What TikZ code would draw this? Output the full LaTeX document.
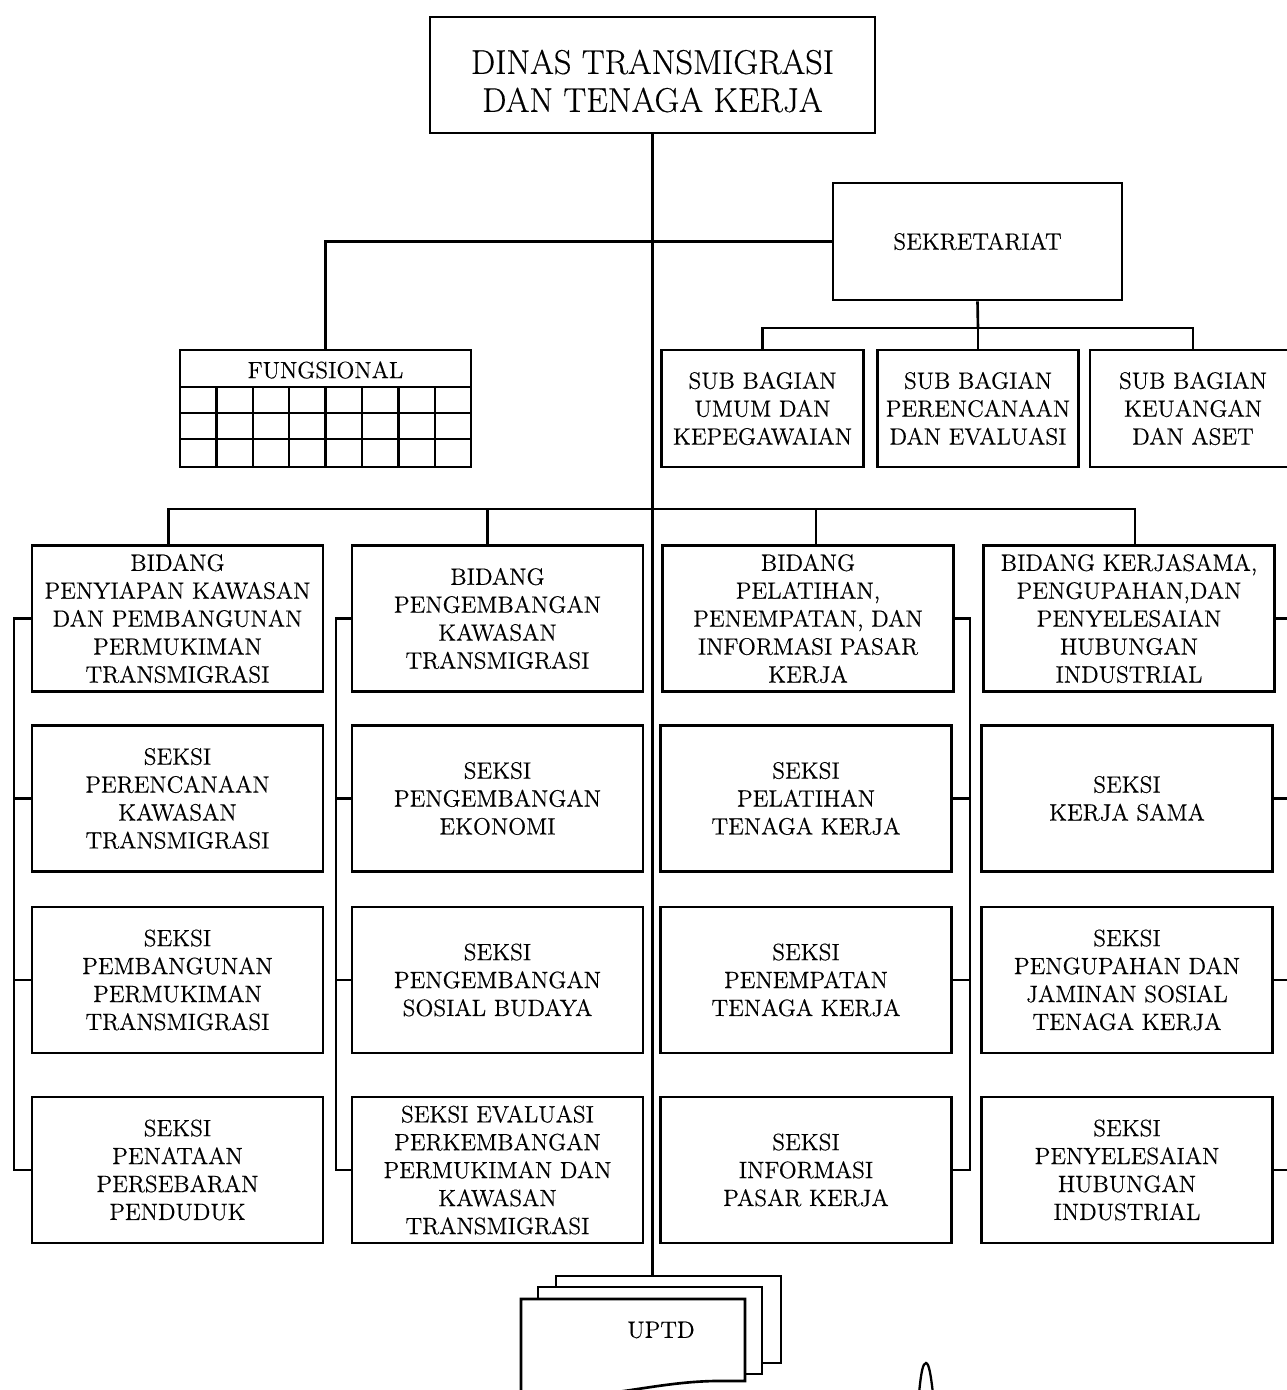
\documentclass[tikz,border=0pt]{standalone}
\usepackage{fontspec}
\setmainfont{Latin Modern Roman}[FakeBold=0.4]
\begin{document}
\begin{tikzpicture}[x=0.02cm,y=-0.02cm,line width=1.5pt,
	unit/.style={draw,line width=1.5pt,fill=white,align=center,inner sep=0pt,font=\fontsize{13.4}{15.9}\selectfont},
	colbox/.style={unit,minimum width=5.82cm,minimum height=2.92cm},
	subbox/.style={unit,minimum width=4.03cm,minimum height=2.34cm}]
	\useasboundingbox (0,0) rectangle (1286,1390);
	
	\node[unit,minimum width=8.9cm,minimum height=2.32cm] at (652.5,75)(dinas){};
	\node[align=center,font=\fontsize{19.5}{21.6}\selectfont] at (652.5,81)(dinastext){DINAS TRANSMIGRASI\\DAN TENAGA KERJA};
	\node[unit,minimum width=5.78cm,minimum height=2.34cm] at (977.5,241.5)(sek){SEKRETARIAT};
	\node[subbox] at (762.5,408.5)(sb1){SUB BAGIAN\\UMUM DAN\\KEPEGAWAIAN};
	\node[subbox] at (978,408.5)(sb2){SUB BAGIAN\\PERENCANAAN\\DAN EVALUASI};
	\node[subbox,minimum width=4.12cm] at (1193,408.5)(sb3){SUB BAGIAN\\KEUANGAN\\DAN ASET};
	
	\node[unit,minimum width=5.82cm,minimum height=2.34cm] at (325.5,408.5)(fung){};
	\node[font=\fontsize{13.4}{15.9}\selectfont] at (325.5,370)(fungtitle){FUNGSIONAL};
	\foreach \y in {387,413,439} \draw[line width=1.3pt] (180,\y) -- (471,\y);
	\foreach \i in {1,...,7} \draw[line width=1.3pt] (180+36.4*\i,387) -- (180+36.4*\i,467);
	
	\node[colbox] at (177.5,618.5)(b1){BIDANG\\PENYIAPAN KAWASAN\\DAN PEMBANGUNAN\\PERMUKIMAN\\TRANSMIGRASI};
	\node[colbox] at (497.5,618.5)(b2){BIDANG\\PENGEMBANGAN\\KAWASAN\\TRANSMIGRASI};
	\node[colbox] at (808,618.5)(b3){BIDANG\\PELATIHAN,\\PENEMPATAN, DAN\\INFORMASI PASAR\\KERJA};
	\node[colbox] at (1129,618.5)(b4){BIDANG KERJASAMA,\\PENGUPAHAN,DAN\\PENYELESAIAN\\HUBUNGAN\\INDUSTRIAL};
	
	\node[colbox] at (177.5,798.5)(b1s1){SEKSI\\PERENCANAAN\\KAWASAN\\TRANSMIGRASI};
	\node[colbox] at (497.5,798.5)(b2s1){SEKSI\\PENGEMBANGAN\\EKONOMI};
	\node[colbox] at (806,798.5)(b3s1){SEKSI\\PELATIHAN\\TENAGA KERJA};
	\node[colbox] at (1127,798.5)(b4s1){SEKSI\\KERJA SAMA};
	
	\node[colbox] at (177.5,980)(b1s2){SEKSI\\PEMBANGUNAN\\PERMUKIMAN\\TRANSMIGRASI};
	\node[colbox] at (497.5,980)(b2s2){SEKSI\\PENGEMBANGAN\\SOSIAL BUDAYA};
	\node[colbox] at (806,980)(b3s2){SEKSI\\PENEMPATAN\\TENAGA KERJA};
	\node[colbox] at (1127,980)(b4s2){SEKSI\\PENGUPAHAN DAN\\JAMINAN SOSIAL\\TENAGA KERJA};
	
	\node[colbox] at (177.5,1170)(b1s3){SEKSI\\PENATAAN\\PERSEBARAN\\PENDUDUK};
	\node[colbox] at (497.5,1170)(b2s3){SEKSI EVALUASI\\PERKEMBANGAN\\PERMUKIMAN DAN\\KAWASAN\\TRANSMIGRASI};
	\node[colbox] at (806,1170)(b3s3){SEKSI\\INFORMASI\\PASAR KERJA};
	\node[colbox] at (1127,1170)(b4s3){SEKSI\\PENYELESAIAN\\HUBUNGAN\\INDUSTRIAL};
	
	% trunk and upper branches
	\coordinate (uptdtop) at (652.5,1276);
	\coordinate (sekbus) at (978,328);
	\coordinate (bus) at (652.5,509);
	\draw (dinas.south) -- (uptdtop);
	\draw (fung.north) |- (sek.west);
	\draw (sek.south) -- (sekbus);
	\draw (sb1.north) |- (sekbus) -| (sb3.north);
	\draw (sekbus) -- (sb2.north);
	\draw ([xshift=-0.18cm]b1.north) |- (bus) -| ([xshift=0.12cm]b4.north);
	\draw ([xshift=-0.2cm]b2.north) -- ([xshift=-0.2cm]b2.north |- bus);
	\draw ([xshift=0.16cm]b3.north) -- ([xshift=0.16cm]b3.north |- bus);
	
	% brackets along the columns
	\coordinate (L1) at (14,0);
	\coordinate (L2) at (336,0);
	\coordinate (R3) at (970,0);
	\coordinate (R4) at (1290,0);
	\draw (b1.west) -- (b1.west -| L1) -- (b1s3.west -| L1) -- (b1s3.west);
	\draw (b2.west) -- (b2.west -| L2) -- (b2s3.west -| L2) -- (b2s3.west);
	\draw (b3.east) -- (b3.east -| R3) -- (b3s3.east -| R3) -- (b3s3.east);
	\draw (b4.east) -- (b4.east -| R4) -- (b4s3.east -| R4) -- (b4s3.east);
	\foreach \n in {1,2}{
		\draw (b1s\n.west) -- (b1s\n.west -| L1);
		\draw (b2s\n.west) -- (b2s\n.west -| L2);
		\draw (b3s\n.east) -- (b3s\n.east -| R3);
		\draw (b4s\n.east) -- (b4s\n.east -| R4);
	}
	
	% UPTD stack
	\draw[fill=white] (556,1276) rectangle (781,1363);
	\draw[fill=white] (538,1287) rectangle (762,1374);
	\draw[fill=white] (521,1299) -- (745,1299) -- (745,1381) -- (715,1381) .. controls (650,1382) and (600,1402) .. (521,1396) -- cycle;
	\node[font=\fontsize{13.4}{15.9}\selectfont] at (661,1330)(uptd){UPTD};
	
	\draw[line width=1.3pt] (919,1394) .. controls (921,1372) and (923,1363) .. (926,1363) .. controls (929,1363) and (931,1376) .. (933,1394);
\end{tikzpicture}
\end{document}
